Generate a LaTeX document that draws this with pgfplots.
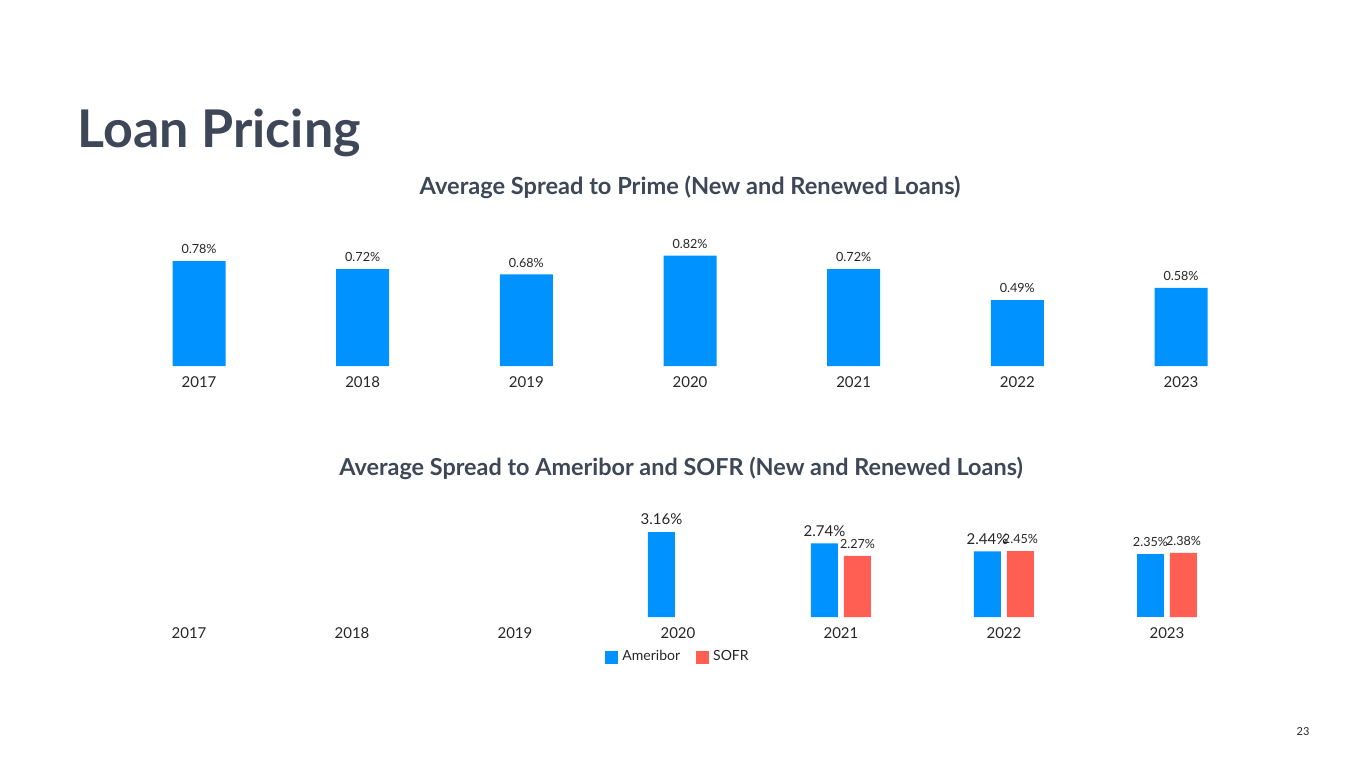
\documentclass[border=0pt]{standalone}
\usepackage{pgfplots}
\pgfplotsset{compat=1.18}
\usepackage{fontspec}
\setmainfont{Lato}
\definecolor{slate}{HTML}{3D4757}
\definecolor{barblue}{HTML}{0092FF}
\definecolor{barred}{HTML}{FF5F52}
\definecolor{txt}{HTML}{262626}

\pgfplotsset{
  spreadaxis/.style={
    anchor=south west, scale only axis, clip=false,
    xmin=-0.6, xmax=6.6, ymin=0,
    axis line style={draw=none}, tick style={draw=none},
    ytick=\empty, xtick={0,...,6},
    xticklabels={2017,2018,2019,2020,2021,2022,2023},
    xticklabel style={font=\fontsize{7.5}{9}\selectfont, text=txt, yshift=-2pt},
  },
  pct/.style 2 args={nodes near coords={\pgfmathprintnumber[fixed,fixed zerofill,precision=2,assume math mode=true]{\pgfplotspointmeta}\%},
    every node near coord/.append style={font=\fontsize{#1}{8}\selectfont, text=txt, xshift=#2}},
}

\begin{document}
\begin{tikzpicture}
\path[fill=white] (0,0) rectangle (682.5pt,384pt);
\node[anchor=base west, inner sep=0, text=slate, font=\fontsize{26}{30}\selectfont\bfseries] at (38.5pt,310.5pt) {Loan Pricing};
\node[anchor=base, inner sep=0, text=slate, font=\fontsize{11.8}{13}\selectfont\bfseries] at (345pt,287pt) {Average Spread to Prime (New and Renewed Loans)};
\node[anchor=base, inner sep=0, text=slate, font=\fontsize{11.7}{13}\selectfont\bfseries] at (340.5pt,146.5pt) {Average Spread to Ameribor and SOFR (New and Renewed Loans)};
\node[anchor=center, inner sep=0, text=txt, font=\fontsize{5.5}{7}\selectfont] at (651.5pt,18pt) {23};

% top chart: spread to prime
\begin{axis}[spreadaxis, at={(50.4pt,201pt)}, width=589.2pt, height=67.3pt, ymax=1]
\addplot[ybar, bar width=26.5pt, fill=barblue, draw=none, pct={6.3}{0pt}] coordinates {
  (0,0.78) (1,0.72) (2,0.68) (3,0.82) (4,0.72) (5,0.49) (6,0.58)};
\end{axis}

% bottom chart: spread to Ameribor and SOFR
\begin{axis}[spreadaxis, at={(45.6pt,75.5pt)}, width=586.8pt, height=53.8pt, ymax=4,
  legend columns=2,
  legend style={at={(0.5009,-0.372)}, anchor=center, draw=none, fill=none,
    font=\fontsize{7}{8}\selectfont, text=txt,
    /tikz/every even column/.append style={column sep=6pt}},
  legend image code/.code={\path[#1] (0pt,-3.25pt) rectangle (6.5pt,3.25pt);}]
\addplot[ybar, bar width=13.5pt, bar shift=-8.25pt, fill=barblue, draw=none, pct={7.5}{-8.25pt}] coordinates {
  (3,3.16) (4,2.74) (5,2.44)};
\addlegendentry{Ameribor}
\addplot[ybar, bar width=13.5pt, bar shift=8.25pt, fill=barred, draw=none, pct={6.3}{8.25pt}] coordinates {
  (4,2.27) (5,2.45) (6,2.38)};
\addlegendentry{SOFR}
\addplot[ybar, bar width=13.5pt, bar shift=-8.25pt, fill=barblue, draw=none, pct={6.3}{-8.25pt}, forget plot] coordinates {
  (6,2.35)};
\end{axis}
\end{tikzpicture}
\end{document}
